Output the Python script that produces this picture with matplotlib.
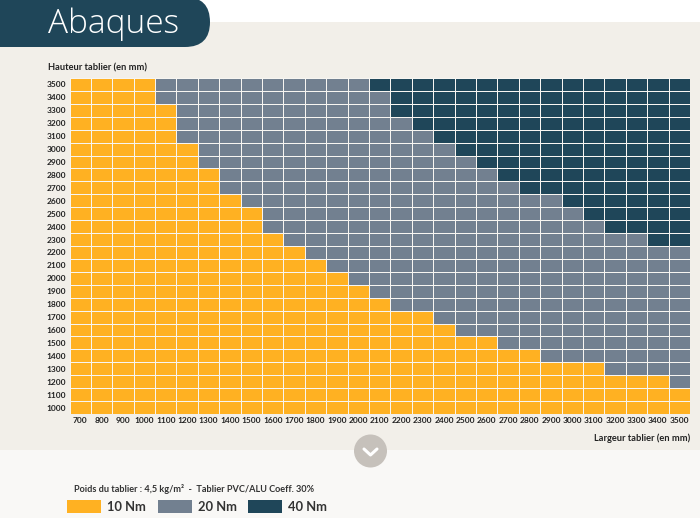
import numpy as np
import matplotlib
matplotlib.use('Agg')
import matplotlib.pyplot as plt
from matplotlib.colors import ListedColormap
from matplotlib.patches import Rectangle, FancyBboxPatch, Circle

# Data
largeurs = list(range(700, 3600, 100))
hauteurs = list(range(1000, 3600, 100))

# highest height still in 10 Nm, one value per width
max_10nm = [3500, 3500, 3500, 3500, 3300, 3000, 2800, 2600, 2500, 2300,
            2200, 2100, 2000, 1900, 1800, 1700, 1700, 1600, 1500, 1500,
            1400, 1400, 1300, 1300, 1300, 1200, 1200, 1200, 1100]
# lowest height in 40 Nm, one value per width (None = never reached)
min_40nm = [None, None, None, None, None, None, None, None, None, None,
            None, None, None, None, 3500, 3300, 3200, 3100, 3000, 2900,
            2800, 2700, 2700, 2600, 2500, 2400, 2400, 2300, 2300]

legende = ['10 Nm', '20 Nm', '40 Nm']
couleurs = ['#FFB122', '#728090', '#1F4659']

W, H = 700, 518
fig = plt.figure(figsize=(W / 100, H / 100), dpi=100, facecolor='#F9F8F6')

# Background and header, in pixel coordinates
bg = fig.add_axes([0, 0, 1, 1])
bg.set_xlim(0, W)
bg.set_ylim(H, 0)
bg.axis('off')
bg.add_patch(Rectangle((0, 0), W, 22, color='white', lw=0))
bg.add_patch(Rectangle((0, 22), W, 428, color='#F2EFE9', lw=0))
bg.add_patch(FancyBboxPatch((-40, -3), 250, 50, boxstyle='round,pad=0,rounding_size=25',
                            color=couleurs[2], lw=0))
bg.text(48.5, 33, 'Abaques', color='white', fontsize=24, family='Open Sans', weight='light')
bg.text(48.5, 68, 'Hauteur tablier (en mm)', fontsize=6.7, family='Lato', weight='bold',
        color='#222222', va='center')
bg.text(690, 438, 'Largeur tablier (en mm)', fontsize=6.7, family='Lato', weight='bold',
        color='#222222', va='center', ha='right')

# Round button with chevron
bg.add_patch(Circle((370.5, 451), 16.5, color='#C6C1BB', lw=0))
bg.plot([364, 370.5, 377], [449, 455, 449], color='white', lw=2.2, solid_capstyle='round')

# Legend
bg.text(74, 488.5, 'Poids du tablier : 4,5 kg/m²  -  Tablier PVC/ALU Coeff. 30%', fontsize=6.6,
        family='Lato', weight='bold', color='#333333', va='center')
for x, lab, c in zip([67, 158, 248], legende, couleurs):
    bg.add_patch(Rectangle((x, 499.5), 34, 13, color=c, lw=0))
    bg.text(x + 40, 507, lab, fontsize=9.3, family='Lato', weight='bold', color='#333333', va='center')

# Main grid
niveaux = np.ones((len(hauteurs), len(largeurs)))
for j in range(len(largeurs)):
    for i, h in enumerate(hauteurs):
        if h <= max_10nm[j]:
            niveaux[i, j] = 0
        elif min_40nm[j] is not None and h >= min_40nm[j]:
            niveaux[i, j] = 2

ax = fig.add_axes([69.5 / W, 1 - 414 / H, 620.5 / W, 336 / H])
ax.pcolormesh(niveaux, cmap=ListedColormap(couleurs), vmin=0, vmax=2,
              edgecolors='#F7F5F1', linewidth=0.65)
ax.set_xticks(np.arange(len(largeurs)) + 0.5)
ax.set_xticklabels(largeurs)
ax.set_yticks(np.arange(len(hauteurs)) + 0.5)
ax.set_yticklabels(hauteurs)
ax.tick_params(length=0, pad=2.5, labelsize=6, labelcolor='#222222')
for lab in ax.get_xticklabels() + ax.get_yticklabels():
    lab.set_family('Lato')
    lab.set_weight('bold')
for s in ax.spines.values():
    s.set_visible(False)

fig.savefig('out.png', dpi=100, facecolor=fig.get_facecolor())
